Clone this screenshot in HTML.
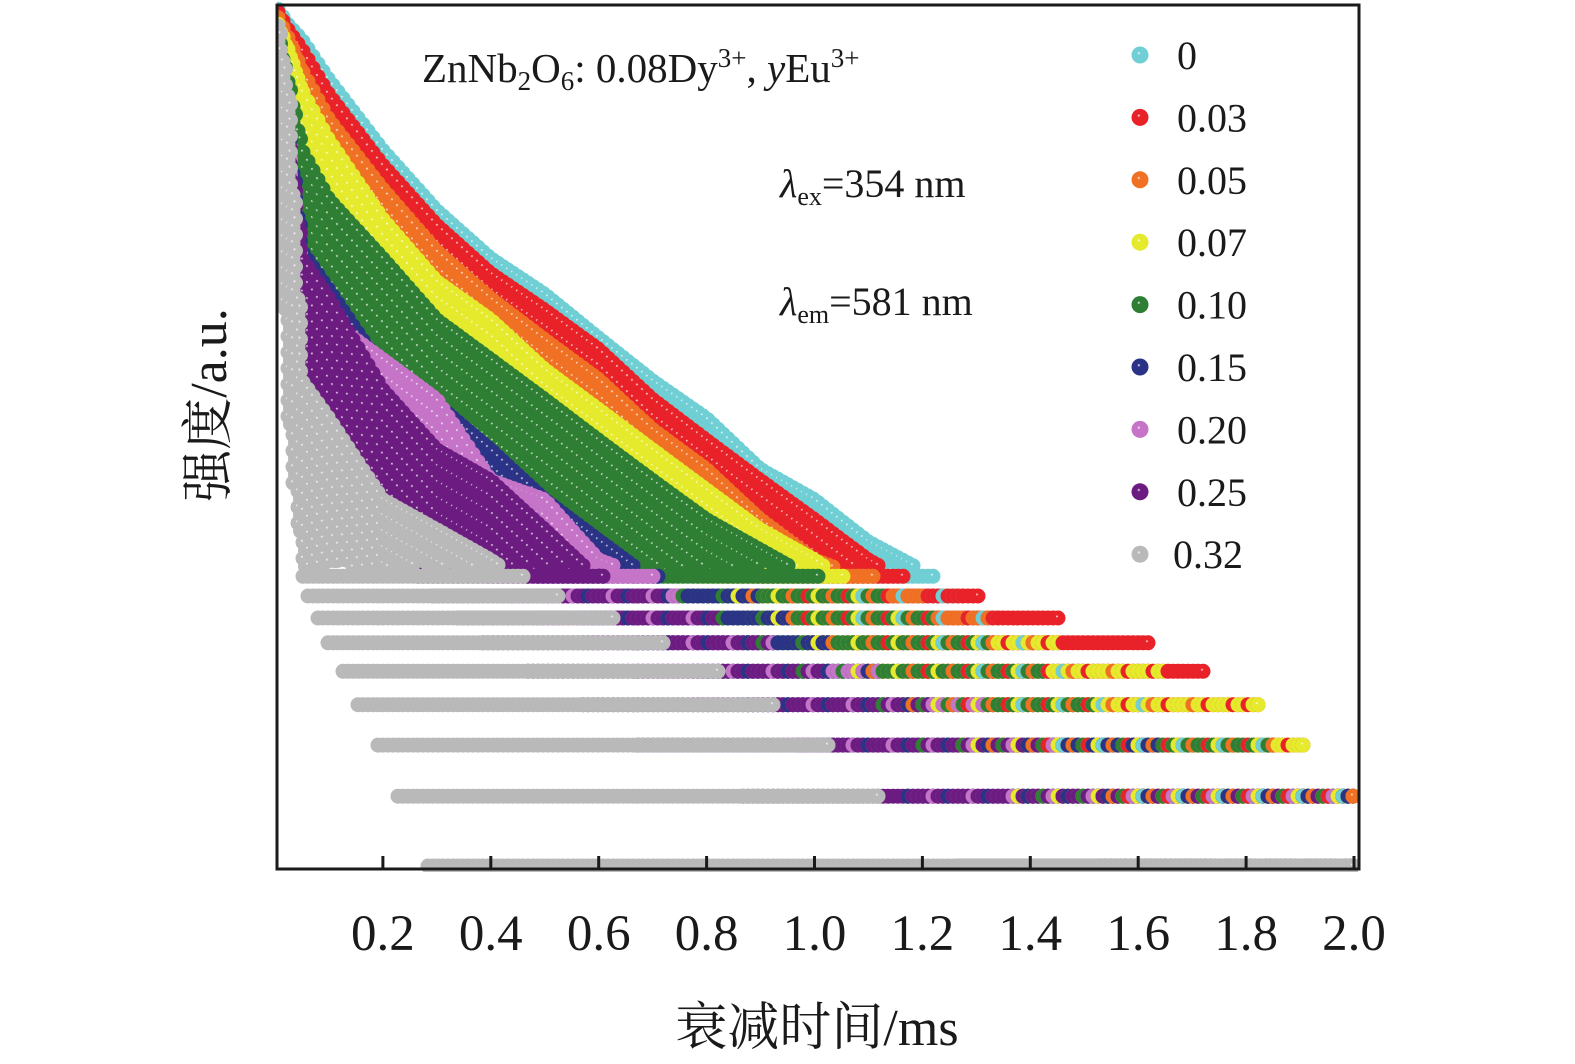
<!DOCTYPE html>
<html><head><meta charset="utf-8"><style>
html,body{margin:0;padding:0;background:#fff;}
svg{display:block;}
text{font-family:"Liberation Serif","Noto Serif CJK SC",serif;fill:#1a1a1a;}
</style></head><body>
<svg id="chart" width="1575" height="1064" viewBox="0 0 1575 1064" xmlns="http://www.w3.org/2000/svg">
<defs id="defs"><clipPath id="plotclip"><rect x="277" y="0" width="1081" height="872"/></clipPath></defs>
<g id="dots" clip-path="url(#plotclip)"></g>
<g>
<line x1="277" y1="869" x2="445" y2="869" stroke="#1a1a1a" stroke-width="3"/>
<rect x="277" y="5" width="1082" height="864" fill="none" stroke="#1a1a1a" stroke-width="3"/>
</g>
<g id="ticks"></g>
<g id="ticklabels"></g>
<text x="817" y="1045" font-size="52" text-anchor="middle">衰减时间/ms</text>
<text transform="translate(226,405) rotate(-90)" font-size="52" text-anchor="middle">强度/a.u.</text>
<text x="422" y="82" font-size="41">ZnNb<tspan font-size="27" dy="8">2</tspan><tspan dy="-8">O</tspan><tspan font-size="27" dy="8">6</tspan><tspan dy="-8">: 0.08Dy</tspan><tspan font-size="27" dy="-15">3+</tspan><tspan dy="15">, </tspan><tspan font-style="italic">y</tspan><tspan>Eu</tspan><tspan font-size="27" dy="-15">3+</tspan></text>
<text x="780" y="197" font-size="40"><tspan font-style="italic">λ</tspan><tspan font-size="26" dy="8">ex</tspan><tspan dy="-8">=354 nm</tspan></text>
<text x="780" y="315" font-size="40"><tspan font-style="italic">λ</tspan><tspan font-size="26" dy="8">em</tspan><tspan dy="-8">=581 nm</tspan></text>
<g id="legend"></g>
</svg>
<script>
const NS="http://www.w3.org/2000/svg";
const seriesNames=["0","0.03","0.05","0.07","0.10","0.15","0.20","0.25","0.32"];
const seriesColors=["#6fcfd4","#e82228","#f07024","#e6ea2c","#2e7f34","#2a3386","#c674c8","#6c1c80","#b9b9b9"];
const timeGrid=[0,0.025,0.05,0.1,0.2,0.3,0.4,0.5,0.6,0.7,0.8,0.9,1.0,1.1,1.2,1.3,1.4,1.6,1.8,2.0];
const upper0=[197,177,164,133,92,67,52,43,34,27,22,16.6,14,11,9.3,7.3,6,4,3,2];
const upper1=[195,172,156,123,85,62,48,39.5,32,24.4,19.5,15.6,12.5,9.9,8.3,7.8,7,6,4,2];
const upper2=[190,165,140,108,75,54,42,33.7,27.2,20.7,16.6,12.5,9.9,8.8,7.8,7,6,5,3,2];
const upper3=[185,155,126,97,64,46,37.5,28.7,23.1,18.5,14.8,11.8,9.9,8,7,6,6,5,4,2];
const upper4=[180,130,92,71,52,37.5,30.3,24.4,19.5,15.6,12.5,10.5,8.8,8,7,6,5,3,3,2];
const upper5=[170,100,54,44,28.7,23.8,18.5,14,11.1,8.8,8,8,6,5,4,3,3,3,2,2];
const upper6=[165,90,46,37.5,30.3,24.4,15.6,14,9.9,8.8,7,6,5,5,4,4,3,2,2,2];
const upper7=[170,95,52,42,25.7,18.5,15.6,11.8,8.8,8,7,6,5,4,4,3,3,2,2,2];
const upper8=[197,120,27,22,14,11.8,9.9,8,7,6,5,4,3,2,1,1,1,1,1,1];
const lower0=[170,150,126,97,64,46,37,29,23,18,14,11,9,7,6,5,4,2,1,1];
const lower1=[170,140,110,85,55,40,32,26,20,15,12,9,7,6,5,4,3,2,1,1];
const lower2=[165,130,100,75,48,35,28,22,17,13,10,8,6,5,4,3,3,2,1,1];
const lower3=[160,110,80,60,40,30,24,19,15,11,9,7,6,5,4,3,2,2,1,1];
const lower4=[150,90,60,45,30,22,18,14,11,9,7,6,5,4,3,3,2,1,1,1];
const lower5=[140,70,35,28,18,14,11,9,7,6,5,4,3,3,2,2,2,1,1,1];
const lower6=[130,60,30,24,16,12,9,7,6,5,4,4,3,3,2,2,2,1,1,1];
const lower7=[130,60,30,22,12,8,6,5,4,3,3,2,2,2,2,1,1,1,1,1];
const lower8=[100,20,9,6,3,1,1,1,1,1,1,1,1,1,1,1,1,1,1,1];
const tickValues=[0.2,0.4,0.6,0.8,1.0,1.2,1.4,1.6,1.8,2.0];
const tickLabels=["0.2","0.4","0.6","0.8","1.0","1.2","1.4","1.6","1.8","2.0"];
const uppers=[upper0,upper1,upper2,upper3,upper4,upper5,upper6,upper7,upper8];
const lowers=[lower0,lower1,lower2,lower3,lower4,lower5,lower6,lower7,lower8];

function xScale(t){return 275+539.5*t;}
function xInv(px){return (px-275)/539.5;}
function yScale(c){return 866-445*(Math.log10(c+1.3)-Math.log10(2.3));}
function interpLog(arr,t){
  for(let i=0;i<timeGrid.length-1;i++){
    if(t<=timeGrid[i+1]){
      const f=(t-timeGrid[i])/(timeGrid[i+1]-timeGrid[i]);
      return Math.exp(Math.log(arr[i])*(1-f)+Math.log(arr[i+1])*f);
    }
  }
  return arr[arr.length-1];
}
const defs=document.getElementById('defs');
seriesColors.forEach((col,i)=>{
  const g=document.createElementNS(NS,'radialGradient');
  g.setAttribute('id','sph'+i);g.setAttribute('cx','0.5');g.setAttribute('cy','0.5');g.setAttribute('r','0.55');
  g.setAttribute('fx','0.42');g.setAttribute('fy','0.38');
  [[0,'#ffffff'],[0.18,col],[0.85,col],[1,col]].forEach(([o,c])=>{
    const s=document.createElementNS(NS,'stop');s.setAttribute('offset',o);s.setAttribute('stop-color',c);g.appendChild(s);});
  defs.appendChild(g);
});
const dots=document.getElementById('dots');
const R=7.5;
const nS=seriesNames.length;
const high=[],low=[];
for(let si=0;si<nS;si++){high.push([]);low.push([]);}
let ncol=0;
for(let si=0;si<nS;si++){
  let col=0;
  for(let px=xScale(0)+3;px<=xScale(2.0)+2;px+=5,col++){
    const t=xInv(px);
    const U=interpLog(uppers[si],t), L=interpLog(lowers[si],t);
    const top=Math.min(9,Math.floor(U+0.3));
    for(let c=Math.max(1,Math.ceil(L-0.3));c<=top;c++){
      const p=[px,yScale(c),col];
      if(c<=8 && si<nS-1) low[si].push(p); else high[si].push(p);
    }
    if(U>9.5){
      const yTop=yScale(U), yBot=yScale(Math.max(L,9.5));
      let k=0;
      for(let y=yTop;y<=yBot;y+=8,k++) high[si].push([px+(k%2)*2.5,y,col]);
    }
  }
  ncol=col;
}
const groups=[];
for(let si=0;si<nS;si++){
  const g=document.createElementNS(NS,'g');
  
  
  g.setAttribute('fill','url(#sph'+si+')');
  groups.push(g);
}
function dot(g,p){
  const c=document.createElementNS(NS,'circle');
  c.setAttribute('cx',p[0].toFixed(1));c.setAttribute('cy',p[1].toFixed(1));c.setAttribute('r',R);
  g.appendChild(c);
}
const lowLayer=document.createElementNS(NS,'g');


for(let si=0;si<nS-1;si++){high[si].forEach(p=>dot(groups[si],p));dots.appendChild(groups[si]);}
const byCol=[];for(let c=0;c<ncol;c++)byCol.push([]);
for(let si=0;si<nS-1;si++)low[si].forEach(p=>byCol[p[2]].push([si,p]));
byCol.forEach((arr,c)=>{
  arr.sort((a,b)=>((a[0]+c*3)%8)-((b[0]+c*3)%8));
  arr.forEach(([si,p])=>{
    const e=document.createElementNS(NS,'circle');
    e.setAttribute('cx',p[0].toFixed(1));e.setAttribute('cy',p[1].toFixed(1));e.setAttribute('r',R);
    e.setAttribute('fill','url(#sph'+si+')');
    lowLayer.appendChild(e);
  });
});
dots.appendChild(lowLayer);
high[nS-1].forEach(p=>dot(groups[nS-1],p));
dots.appendChild(groups[nS-1]);

const ticks=document.getElementById('ticks'),tl=document.getElementById('ticklabels');
tickValues.forEach((v,i)=>{
  const x=xScale(v);
  const l=document.createElementNS(NS,'line');
  l.setAttribute('x1',x);l.setAttribute('x2',x);l.setAttribute('y1',868);l.setAttribute('y2',856);
  l.setAttribute('stroke','#1a1a1a');l.setAttribute('stroke-width','3');
  
  
  ticks.appendChild(l);
  const t=document.createElementNS(NS,'text');
  t.setAttribute('x',x);t.setAttribute('y',950);t.setAttribute('font-size','51');t.setAttribute('text-anchor','middle');
  t.textContent=tickLabels[i];
  
  
  tl.appendChild(t);
});
const leg=document.getElementById('legend');
seriesNames.forEach((n,i)=>{
  const y=55+62.4*i;
  const g=document.createElementNS(NS,'g');
  
  
  const c=document.createElementNS(NS,'circle');
  c.setAttribute('cx',1140);c.setAttribute('cy',y);c.setAttribute('r',8.5);c.setAttribute('fill','url(#sph'+i+')');
  g.appendChild(c);
  const t=document.createElementNS(NS,'text');
  t.setAttribute('x',i===8?1173:1177);t.setAttribute('y',y+14);t.setAttribute('font-size','40');
  t.textContent=n;
  g.appendChild(t);
  leg.appendChild(g);
});
</script>
</body></html>
